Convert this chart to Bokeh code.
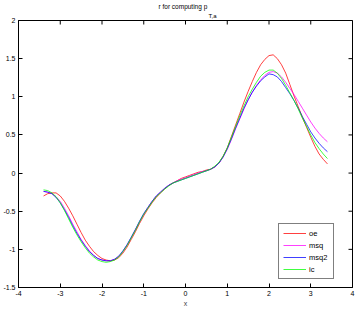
import math
from bokeh.plotting import figure
from bokeh.models import Range1d, FixedTicker, Legend, LegendItem, Title
from bokeh.embed import file_html
from bokeh.resources import INLINE

x = [-3.4, -3.3, -3.2, -3.1, -3.0, -2.9, -2.8, -2.7, -2.6, -2.5, -2.4, -2.3,
     -2.2, -2.1, -2.0, -1.9, -1.8, -1.7, -1.6, -1.5, -1.4, -1.3, -1.2, -1.1,
     -1.0, -0.9, -0.8, -0.7, -0.6, -0.5, -0.4, -0.3, -0.2, -0.1, 0.0, 0.1,
     0.2, 0.3, 0.4, 0.5, 0.6, 0.7, 0.8, 0.9, 1.0, 1.1, 1.2, 1.3,
     1.4, 1.5, 1.6, 1.7, 1.8, 1.9, 2.0, 2.1, 2.2, 2.3, 2.4, 2.5,
     2.6, 2.7, 2.8, 2.9, 3.0, 3.1, 3.2, 3.3, 3.4]

oe = [-0.30, -0.27, -0.26, -0.26, -0.30, -0.37, -0.46, -0.56, -0.67, -0.78, -0.88, -0.96,
      -1.03, -1.08, -1.12, -1.14, -1.15, -1.14, -1.11, -1.05, -0.97, -0.87, -0.77, -0.66,
      -0.56, -0.47, -0.39, -0.32, -0.26, -0.21, -0.16, -0.13, -0.10, -0.07, -0.05, -0.03,
      -0.01, 0.01, 0.02, 0.04, 0.05, 0.08, 0.13, 0.22, 0.33, 0.48, 0.63, 0.78,
      0.93, 1.07, 1.20, 1.32, 1.42, 1.49, 1.54, 1.55, 1.50, 1.42, 1.31, 1.16,
      1.01, 0.87, 0.73, 0.60, 0.47, 0.35, 0.25, 0.18, 0.12]

msq = [-0.24, -0.25, -0.27, -0.31, -0.37, -0.46, -0.56, -0.67, -0.77, -0.87, -0.95, -1.02,
       -1.08, -1.12, -1.14, -1.15, -1.15, -1.13, -1.09, -1.03, -0.94, -0.85, -0.74, -0.64,
       -0.54, -0.45, -0.37, -0.30, -0.25, -0.20, -0.16, -0.13, -0.10, -0.08, -0.06, -0.04,
       -0.02, 0.00, 0.02, 0.03, 0.05, 0.08, 0.13, 0.21, 0.31, 0.44, 0.58, 0.71,
       0.84, 0.96, 1.06, 1.15, 1.22, 1.28, 1.32, 1.33, 1.31, 1.26, 1.19, 1.11,
       1.03, 0.94, 0.85, 0.76, 0.67, 0.59, 0.52, 0.46, 0.41]

msq2 = [-0.24, -0.25, -0.27, -0.32, -0.39, -0.48, -0.58, -0.69, -0.79, -0.88, -0.96, -1.03,
        -1.08, -1.12, -1.14, -1.15, -1.15, -1.13, -1.09, -1.02, -0.94, -0.84, -0.74, -0.63,
        -0.53, -0.45, -0.37, -0.30, -0.25, -0.20, -0.16, -0.13, -0.11, -0.09, -0.07, -0.05,
        -0.03, -0.01, 0.01, 0.03, 0.05, 0.08, 0.13, 0.21, 0.32, 0.45, 0.59, 0.72,
        0.85, 0.96, 1.06, 1.14, 1.21, 1.26, 1.30, 1.29, 1.26, 1.20, 1.12, 1.04,
        0.95, 0.85, 0.74, 0.64, 0.54, 0.46, 0.39, 0.33, 0.28]

ic = [-0.22, -0.23, -0.26, -0.31, -0.39, -0.49, -0.60, -0.71, -0.81, -0.90, -0.98, -1.05,
      -1.10, -1.14, -1.16, -1.17, -1.16, -1.14, -1.10, -1.03, -0.95, -0.85, -0.75, -0.64,
      -0.54, -0.46, -0.38, -0.31, -0.26, -0.21, -0.17, -0.13, -0.11, -0.09, -0.07, -0.05,
      -0.03, -0.01, 0.01, 0.03, 0.05, 0.09, 0.14, 0.22, 0.33, 0.47, 0.61, 0.75,
      0.88, 1.00, 1.10, 1.19, 1.27, 1.32, 1.35, 1.35, 1.31, 1.24, 1.15, 1.05,
      0.95, 0.84, 0.72, 0.61, 0.50, 0.40, 0.32, 0.25, 0.19]

series_names = ["oe", "msq", "msq2", "ic"]
series_values = [oe, msq, msq2, ic]
series_colors = ["#ff0000", "#ff00ff", "#0000ff", "#00ff00"]

x_ticks = [-4, -3, -2, -1, 0, 1, 2, 3, 4]
x_tick_labels = ["-4", "-3", "-2", "-1", "0", "1", "2", "3", "4"]
y_ticks = [-1.5, -1, -0.5, 0, 0.5, 1, 1.5, 2]
y_tick_labels = ["-1.5", "-1", "-0.5", "0", "0.5", "1", "1.5", "2"]

title_main = "r for computing p"
title_sub = "T,a"
x_label = "x"

FONT = "Liberation Sans"
FS = "7px"
X_MIN, X_MAX, Y_MIN, Y_MAX = -4, 4, -1.5, 2

p = figure(width=360, height=309, output_backend="svg", toolbar_location=None,
           x_range=Range1d(X_MIN, X_MAX), y_range=Range1d(Y_MIN, Y_MAX),
           title=None,
           min_border_left=17, min_border_right=8, min_border_top=20, min_border_bottom=21)
p.background_fill_color = "white"
p.border_fill_color = "white"
p.outline_line_color = "black"
p.outline_line_width = 1
p.xgrid.visible = False
p.ygrid.visible = False

# subscript row first (closest to the frame), then the main title row above it
sub = Title(text=title_sub, align="left", offset=190, text_font=FONT,
            text_font_size="6px", text_font_style="normal", text_color="black",
            standoff=3, text_line_height=0.5)
main = Title(text=title_main, align="left", offset=140, text_font=FONT,
             text_font_size="6.5px", text_font_style="normal", text_color="black", standoff=0)
p.add_layout(sub, "above")
p.add_layout(main, "above")

def style_axis(ax, ticks, labels):
    ax.ticker = FixedTicker(ticks=ticks)
    ax.major_label_overrides = {t: l for t, l in zip(ticks, labels)}
    ax.major_tick_in = 4
    ax.major_tick_out = 0
    ax.minor_tick_in = 0
    ax.minor_tick_out = 0
    ax.axis_line_color = "black"
    ax.major_tick_line_color = "black"
    ax.major_label_text_font = FONT
    ax.major_label_text_font_size = FS
    ax.major_label_text_color = "black"
    ax.major_label_standoff = 3

style_axis(p.xaxis[0], x_ticks, x_tick_labels)
style_axis(p.yaxis[0], y_ticks, y_tick_labels)
p.xaxis[0].axis_label = x_label
p.xaxis[0].axis_label_text_font = FONT
p.xaxis[0].axis_label_text_font_size = FS
p.xaxis[0].axis_label_text_font_style = "normal"
p.xaxis[0].axis_label_standoff = 1

# inward ticks on the top and right edges of the box (half of each dash is clipped by the frame)
p.scatter(x_ticks, [Y_MAX] * len(x_ticks), marker="dash", size=8, angle=math.pi / 2,
          line_color="black", line_width=1)
p.scatter([X_MAX] * len(y_ticks), y_ticks, marker="dash", size=8,
          line_color="black", line_width=1)

items = []
for name, vals, col in zip(series_names, series_values, series_colors):
    r = p.line(x, vals, line_color=col, line_width=1, line_alpha=0.75)
    items.append(LegendItem(label=name, renderers=[r]))

legend = Legend(items=items, location=(260, 8))
legend.label_text_font = FONT
legend.label_text_font_size = "7.5px"
legend.label_text_color = "black"
legend.glyph_width = 23
legend.glyph_height = 10
legend.label_height = 10
legend.label_standoff = 3
legend.spacing = 2
legend.padding = 4
legend.margin = 0
legend.border_line_color = "black"
legend.border_line_width = 1
legend.background_fill_color = "white"
p.add_layout(legend)

open("out.html", "w").write(file_html(p, INLINE))
